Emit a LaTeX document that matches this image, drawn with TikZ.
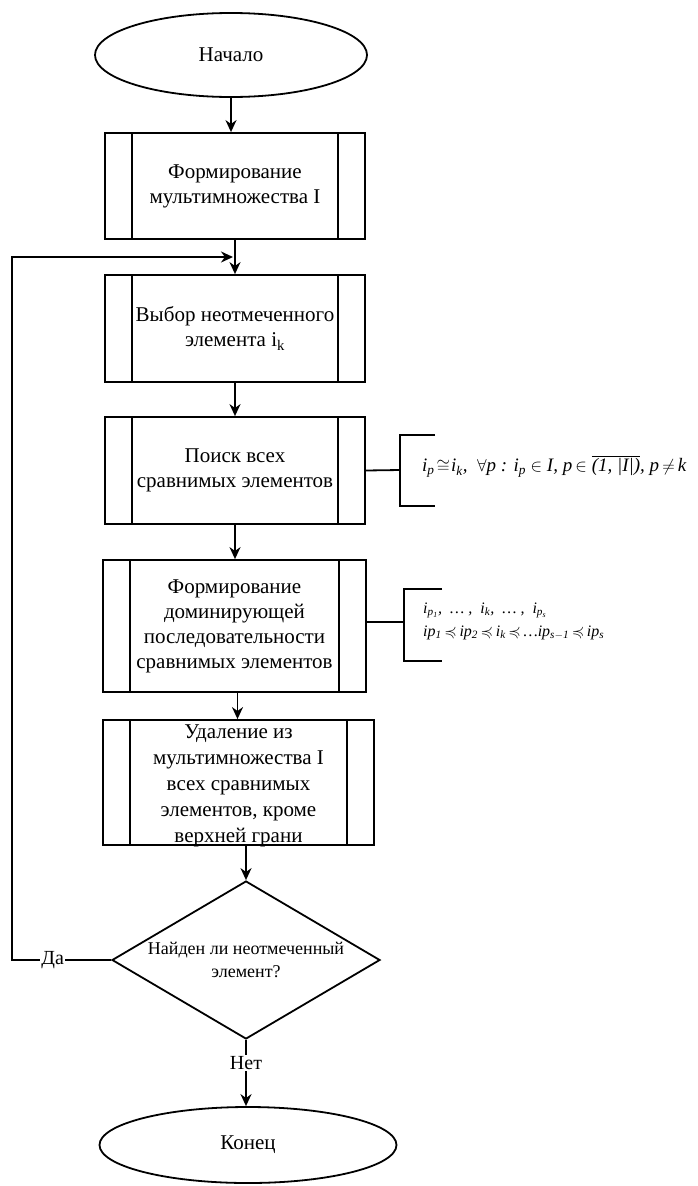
\documentclass[tikz,border=0pt]{standalone}
\usepackage{amsmath,amssymb}
\usepackage{fontspec}
\setmainfont{Liberation Serif}
\usetikzlibrary{shapes.geometric,arrows.meta,calc}

\tikzset{
  line/.style={line width=1.8pt},
  arr/.style={line, -{Stealth[length=12pt,width=11pt]}},
  txt/.style={font=\fontsize{21}{25}\selectfont, align=center},
  term/.style={draw, line, ellipse, txt, inner sep=0pt},
  proc/.style={draw, line, rectangle, txt, inner sep=0pt,
    path picture={
      \draw[line width=1.8pt]
        ([xshift=27pt]path picture bounding box.north west) --
        ([xshift=27pt]path picture bounding box.south west)
        ([xshift=-27pt]path picture bounding box.north east) --
        ([xshift=-27pt]path picture bounding box.south east);
    }},
  decide/.style={draw, line, diamond, shape aspect=1.7, inner sep=0pt,
    font=\fontsize{18}{23}\selectfont, align=center},
  lbl/.style={fill=white, inner sep=1pt, font=\fontsize{20}{24}\selectfont},
  formula/.style={anchor=west, inner sep=0pt, align=left},
}

\begin{document}
\begin{tikzpicture}[x=1pt, y=-1pt]
  \fill[white] (0,0) rectangle (698,1186);
  \useasboundingbox (0,0) rectangle (698,1186);

  % flowchart blocks
  \node[term, minimum width=272pt, minimum height=84pt] (start) at (231,55) {Начало};
  \node[proc, minimum width=260pt, minimum height=106pt] (b1) at (235,186)
    {Формирование\\мультимножества I};
  \node[proc, minimum width=260pt, minimum height=107pt] (b2) at (235,328.5)
    {Выбор неотмеченного\\элемента i\textsubscript{k}};
  \node[proc, minimum width=260pt, minimum height=107pt] (b3) at (235,470.5)
    {Поиск всех\\сравнимых элементов};
  \node[proc, minimum width=263pt, minimum height=132pt] (b4) at (234.5,626)
    {Формирование\\доминирующей\\последовательности\\сравнимых элементов};
  \node[proc, minimum width=271pt, minimum height=125pt] (b5) at (238.5,782.5) {};
  \node[txt, font=\fontsize{21}{26}\selectfont, inner sep=0pt] (b5text) at (238.5,786)
    {Удаление из\\мультимножества I\\всех сравнимых\\элементов, кроме\\верхней грани};
  \node[decide, minimum width=268pt, minimum height=158pt] (dec) at (246,960)
    {Найден ли неотмеченный\\элемент?};
  \node[term, minimum width=297pt, minimum height=76pt] (stop) at (248,1145) {Конец};

  % main flow
  \draw[arr] (start.south) -- (start.south |- b1.north);
  \draw[arr] (b1.south) -- (b1.south |- b2.north);
  \draw[arr] (b2.south) -- (b2.south |- b3.north);
  \draw[arr] (b3.south) -- (b3.south |- b4.north);
  \draw[arr] ([xshift=3pt]b4.south) -- ([xshift=3pt]b4.south |- b5.north);
  \draw[arr] (dec.north |- b5.south) -- (dec.north);
  \draw[arr] (dec.south) -- node[lbl, pos=0.35] {Нет} (dec.south |- stop.north);

  % loop back
  \coordinate (join) at ($(b1.south)!0.5!(b2.north)$);
  \coordinate (loopx) at (12,0);
  \draw[arr] (dec.west) -- node[lbl, pos=0.59] {Да} (dec.west -| loopx) |- ([xshift=-2pt]join);

  % annotation for the search step
  \coordinate (br1) at (400,470);
  \draw[line] (b3.east) -- (br1);
  \draw[line] (435,435) -- (400,435) -- (400,506) -- (435,506);
  \node[formula, font=\fontsize{19}{22}\selectfont\itshape] (f1) at (422,466)
    {i\textsubscript{p}\hspace{2pt}$\cong$\hspace{1pt}i\textsubscript{k},\ \ $\forall$p : i\textsubscript{p} $\in$ I,
     p\,$\in\overline{\text{\itshape(1, |I|)}}$, p\,$\neq$\,k};

  % annotation for the dominating sequence step
  \coordinate (br2) at (404,622);
  \draw[line] (b4.east |- br2) -- (br2);
  \draw[line] (442,589) -- (404,589) -- (404,661) -- (442,661);
  \node[formula, font=\fontsize{16}{23}\selectfont\itshape] (f2) at (423,621)
    {i\textsubscript{p\textsubscript{1}}, \ \dots\ , \ i\textsubscript{k}, \ \dots\ , \ i\textsubscript{p\textsubscript{s}}\\
     ip\textsubscript{1}\,$\preccurlyeq$\,ip\textsubscript{2}\,$\preccurlyeq$\,i\textsubscript{k}\,$\preccurlyeq$\,\dots ip\textsubscript{s${-}$1}\,$\preccurlyeq$\,ip\textsubscript{s}};
\end{tikzpicture}
\end{document}
